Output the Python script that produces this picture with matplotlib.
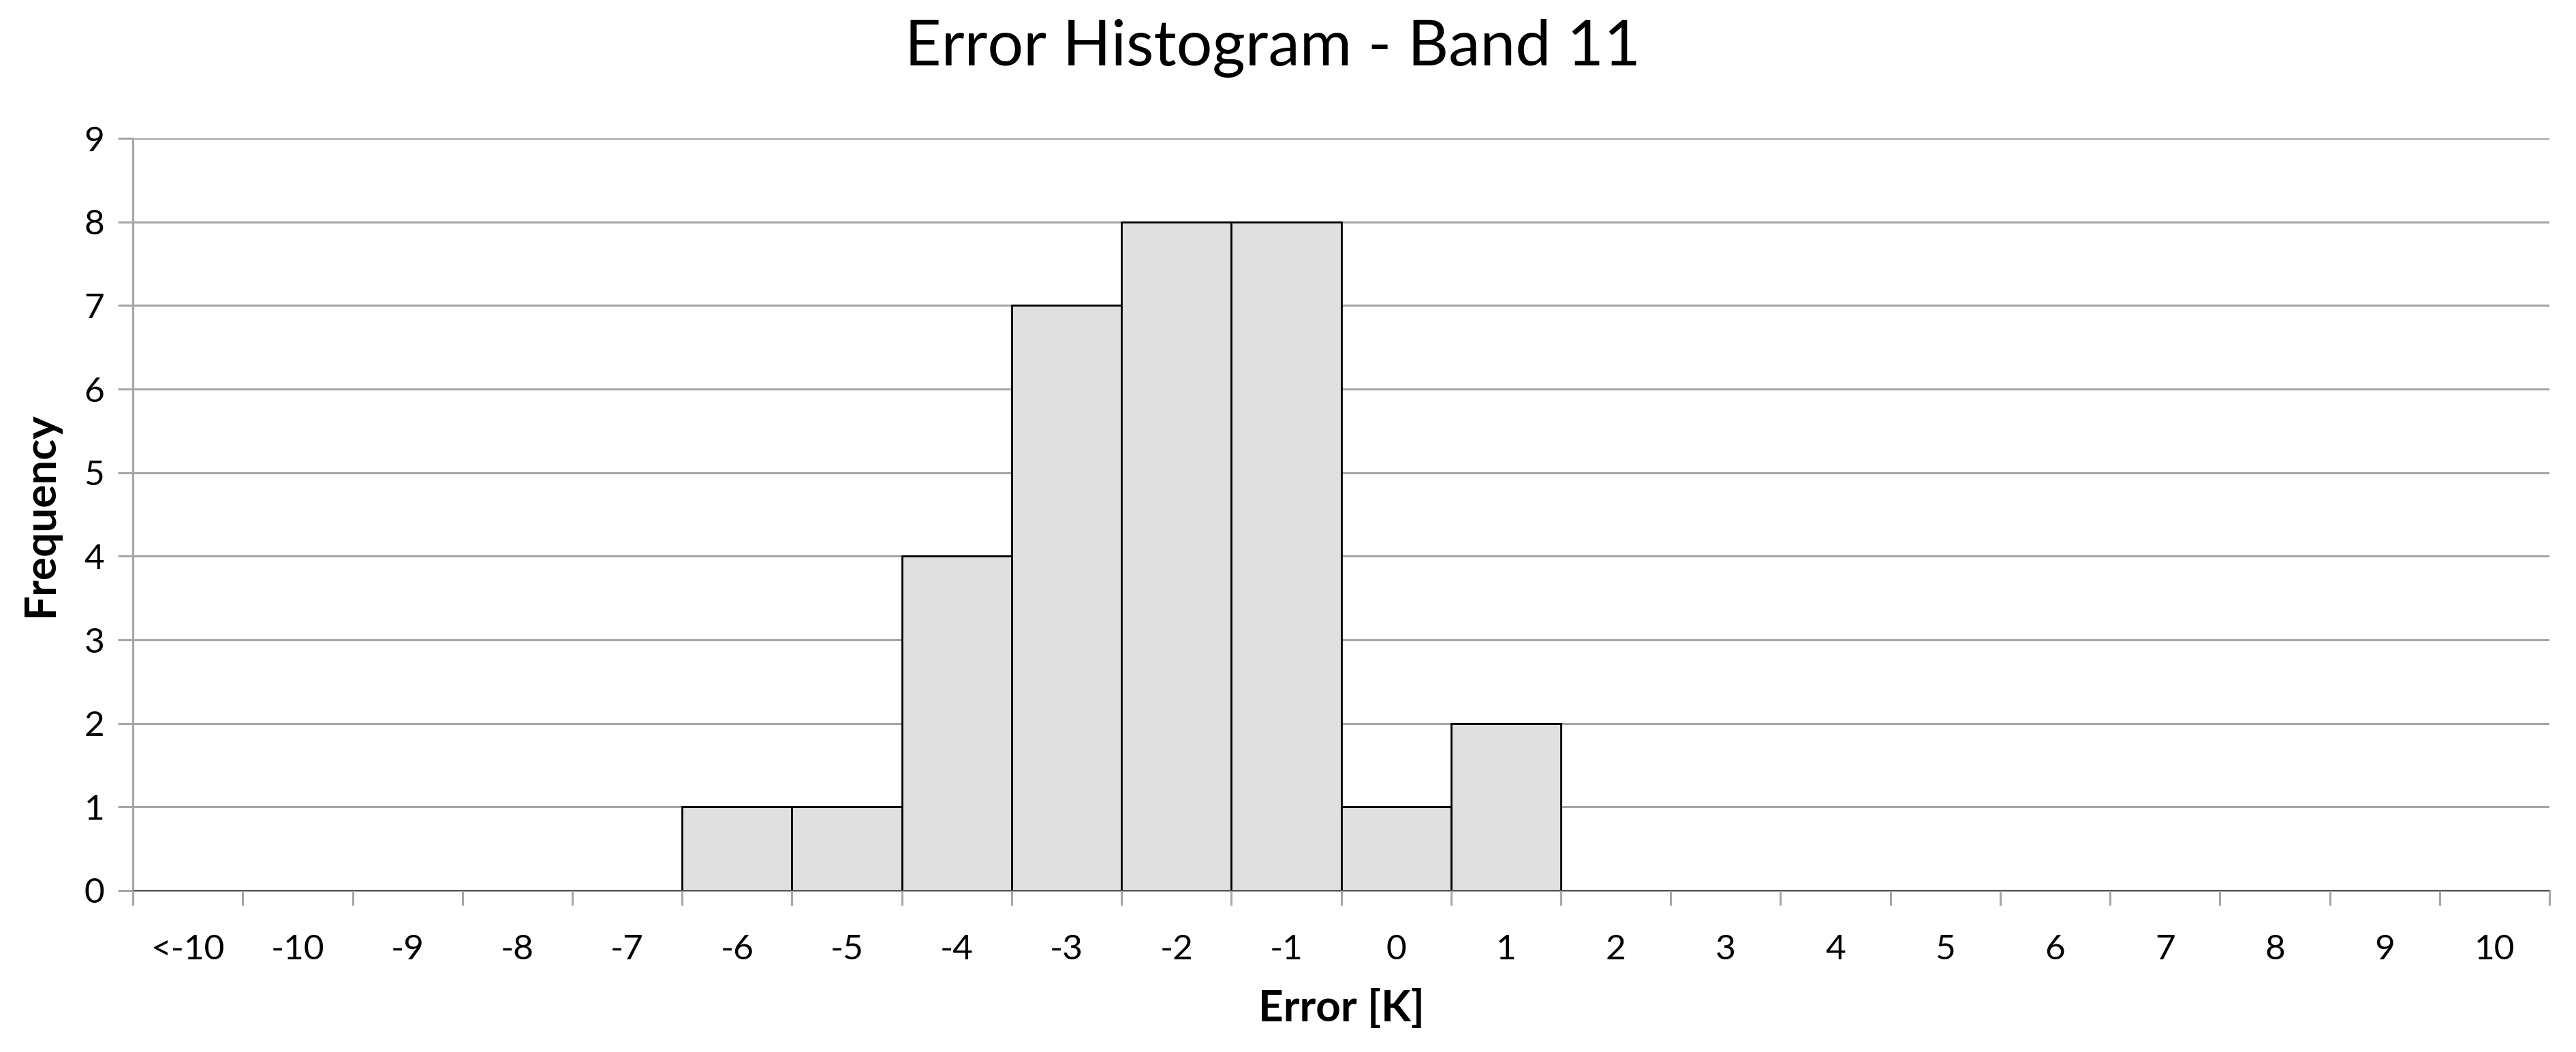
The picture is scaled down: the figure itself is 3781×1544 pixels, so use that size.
import numpy as np
from matplotlib import pyplot as plt

plt.rcParams['font.family'] = ['Lato', 'DejaVu Sans']

categories = ['<-10', '-10', '-9', '-8', '-7', '-6', '-5', '-4', '-3', '-2', '-1',
              '0', '1', '2', '3', '4', '5', '6', '7', '8', '9', '10']
frequency = [0, 0, 0, 0, 0, 1, 1, 4, 7, 8, 8, 1, 2, 0, 0, 0, 0, 0, 0, 0, 0, 0]

grid_color = '#a6a6a6'

fig = plt.figure(figsize=(37.81, 15.44), dpi=100)
ax = fig.add_axes([0.0516, 0.1535, 0.9381, 0.715])

x = np.arange(len(categories))
ax.bar(x, frequency, width=1.0, color='#e0e0e0', edgecolor='black', linewidth=2.0, zorder=3)

ax.set_xlim(-0.5, len(categories) - 0.5)
ax.set_ylim(0, 9)
ax.set_yticks(range(0, 10))
ax.yaxis.grid(True, color=grid_color, linewidth=2.2, zorder=0)

# category labels centered, tick marks on the boundaries
ax.set_xticks(x)
ax.set_xticklabels(categories)
ax.set_xticks(np.arange(-0.5, len(categories)), minor=True)
ax.tick_params(axis='x', which='major', length=0, pad=46, labelsize=37)
ax.tick_params(axis='x', which='minor', length=16, width=2.2, color=grid_color)
ax.tick_params(axis='y', length=16, width=2.2, color=grid_color, pad=14, labelsize=37)

for s in ['top', 'right']:
    ax.spines[s].set_visible(False)
for s in ['left', 'bottom']:
    ax.spines[s].set_color(grid_color)
    ax.spines[s].set_linewidth(2.2)

ax.set_xlabel('Error [K]', fontsize=46, fontweight='bold', labelpad=24)
ax.set_ylabel('Frequency', fontsize=46, fontweight='bold', labelpad=26)
fig.suptitle('Error Histogram - Band 11', fontsize=67, x=0.494, y=0.982)

fig.savefig('out.png', dpi=100, facecolor='white')
